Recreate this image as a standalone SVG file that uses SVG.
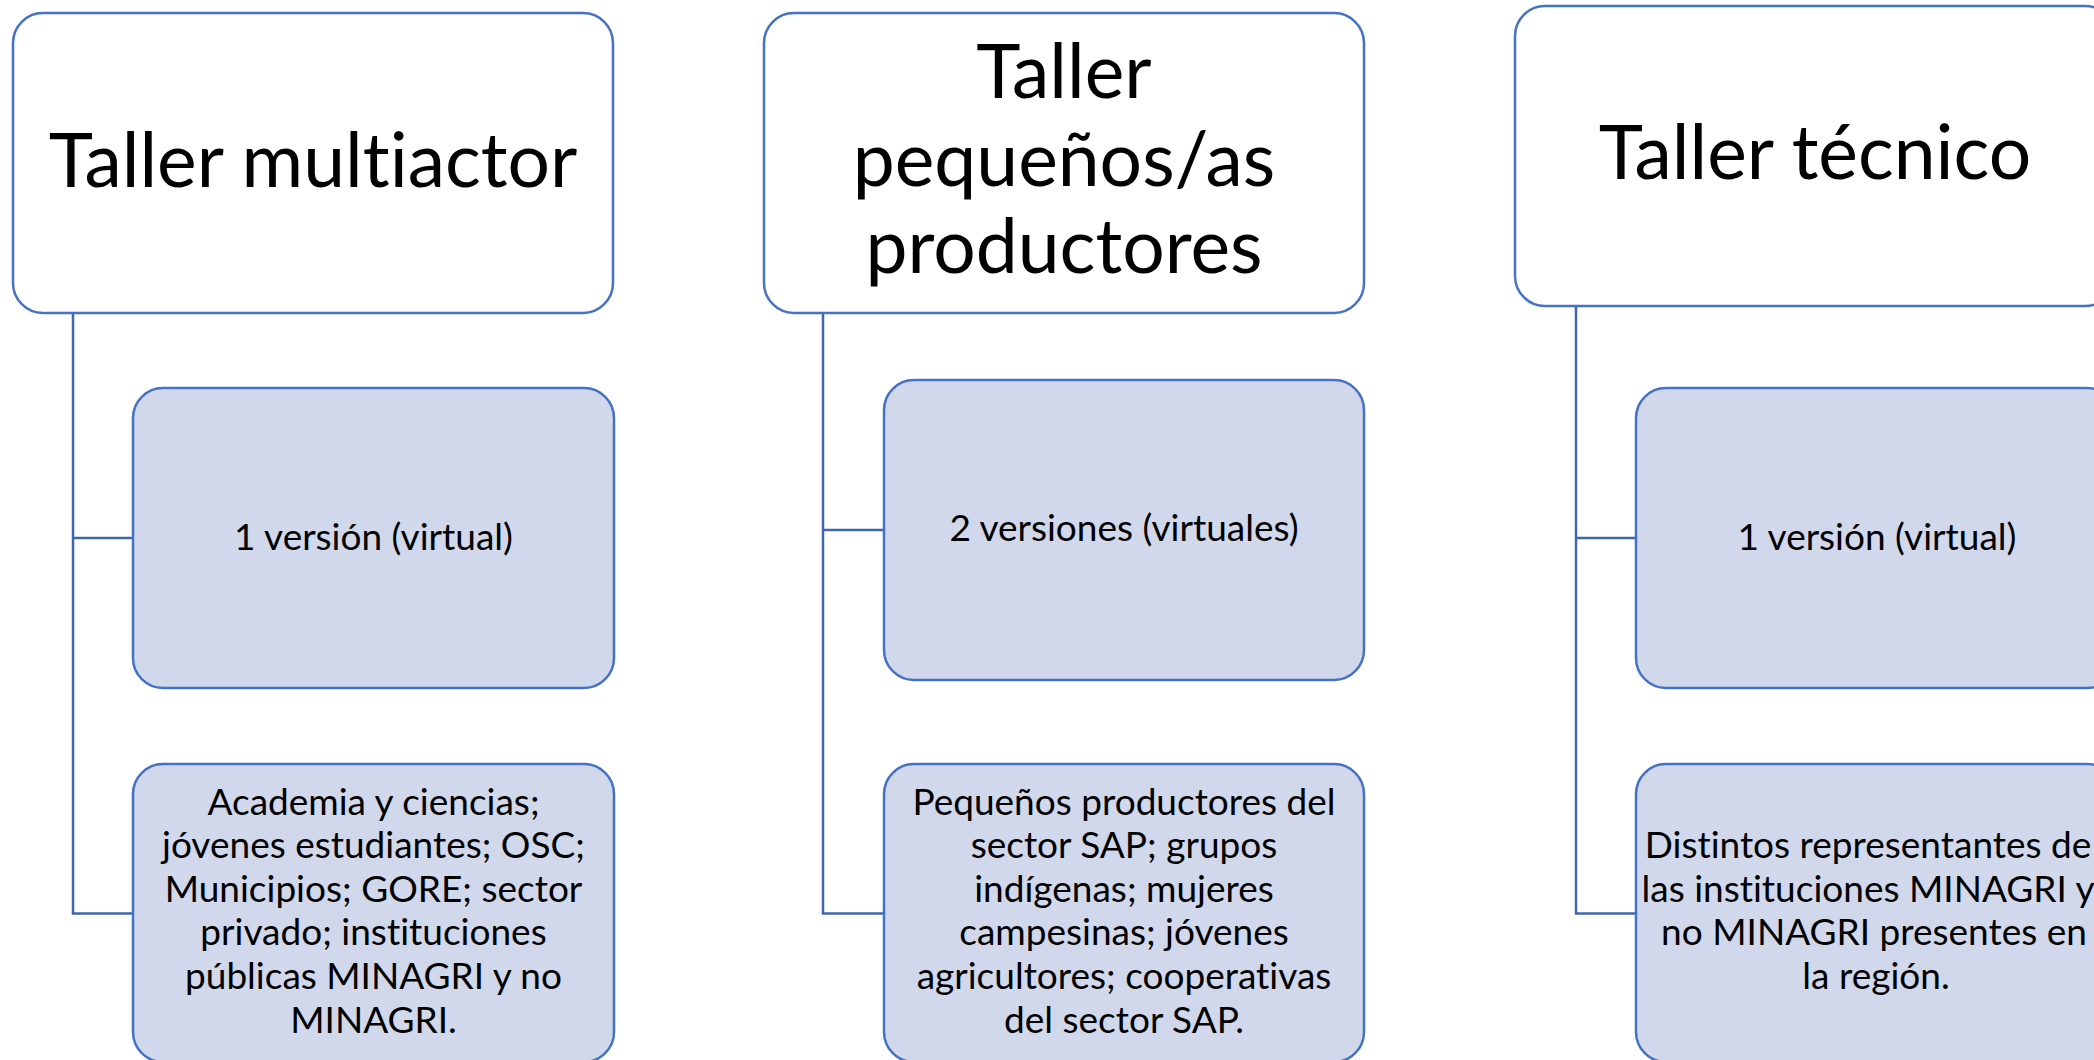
<svg xmlns="http://www.w3.org/2000/svg" width="2094" height="1060" viewBox="0 0 2094 1060">
<style>
.hdr{fill:#FFFFFF;stroke:#4472C4;stroke-width:2.5}
.sub{fill:#D2D8EB;stroke:#4472C4;stroke-width:2.5}
.conn{fill:none;stroke:#3F66AE;stroke-width:2.5}
text{font-family:Lato,"Open Sans","Liberation Sans",sans-serif;fill:#000;text-anchor:middle;font-variant-ligatures:none;font-feature-settings:"liga" 0}
.th{font-size:75px}
.ts{font-size:37px}
</style>
<rect width="2094" height="1060" fill="#FFFFFF"/>
<g id="connectors">
<path class="conn" d="M73,313 V913.5 H133 M73,538 H133"/>
<path class="conn" d="M823,313 V913.5 H884 M823,530 H884"/>
<path class="conn" d="M1576,306 V913.5 H1636 M1576,538 H1636"/>
</g>
<g id="n-multiactor">
<rect class="hdr" x="13" y="13" width="600" height="300" rx="30"/>
<text class="th" x="313" y="187">Taller multiactor</text>
</g>
<g id="n-multiactor-version">
<rect class="sub" x="133" y="388" width="481" height="300" rx="30"/>
<text class="ts" x="373.5" y="550">1 versión (virtual)</text>
</g>
<g id="n-multiactor-actores">
<rect class="sub" x="133" y="764" width="481" height="298" rx="30"/>
<text class="ts" x="373.5" y="814.5">Academia y ciencias;</text>
<text class="ts" x="373.5" y="858">jóvenes estudiantes; OSC;</text>
<text class="ts" x="373.5" y="901.5">Municipios; GORE; sector</text>
<text class="ts" x="373.5" y="945">privado; instituciones</text>
<text class="ts" x="373.5" y="989">públicas MINAGRI y no</text>
<text class="ts" x="373.5" y="1033">MINAGRI.</text>
</g>
<g id="n-productores">
<rect class="hdr" x="764" y="13" width="600" height="300" rx="30"/>
<text class="th" x="1064" y="98">Taller</text>
<text class="th" x="1064" y="185.5">pequeños/as</text>
<text class="th" x="1064" y="273">productores</text>
</g>
<g id="n-productores-version">
<rect class="sub" x="884" y="380" width="480" height="300" rx="30"/>
<text class="ts" x="1124" y="541">2 versiones (virtuales)</text>
</g>
<g id="n-productores-actores">
<rect class="sub" x="884" y="764" width="480" height="298" rx="30"/>
<text class="ts" x="1124" y="814.5">Pequeños productores del</text>
<text class="ts" x="1124" y="858">sector SAP; grupos</text>
<text class="ts" x="1124" y="901.5">indígenas; mujeres</text>
<text class="ts" x="1124" y="945">campesinas; jóvenes</text>
<text class="ts" x="1124" y="989">agricultores; cooperativas</text>
<text class="ts" x="1124" y="1033">del sector SAP.</text>
</g>
<g id="n-tecnico">
<rect class="hdr" x="1515" y="6" width="600" height="300" rx="30"/>
<text class="th" x="1815" y="179">Taller técnico</text>
</g>
<g id="n-tecnico-version">
<rect class="sub" x="1636" y="388" width="481" height="300" rx="30"/>
<text class="ts" x="1877" y="550">1 versión (virtual)</text>
</g>
<g id="n-tecnico-actores">
<rect class="sub" x="1636" y="764" width="481" height="298" rx="30"/>
<text class="ts" x="1868" y="858">Distintos representantes de</text>
<text class="ts" x="1868" y="901.5">las instituciones MINAGRI y</text>
<text class="ts" x="1874" y="945">no MINAGRI presentes en</text>
<text class="ts" x="1876" y="989">la región.</text>
</g>
</svg>
